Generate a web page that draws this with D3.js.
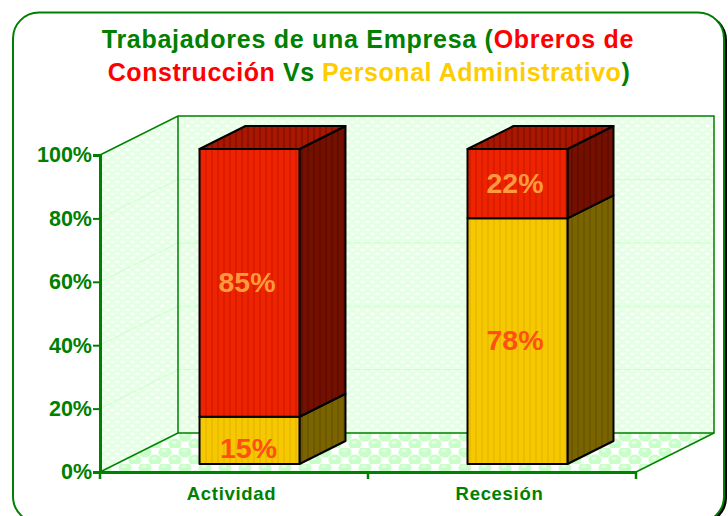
<!DOCTYPE html>
<html>
<head>
  <meta charset="utf-8">
  <title>Trabajadores de una Empresa</title>
  <script src="https://d3js.org/d3.v7.min.js"></script>
  <style>
    html, body { margin: 0; padding: 0; background: #fff; overflow: hidden; }
    svg { display: block; font-family: "Liberation Sans", Arial, sans-serif; font-weight: bold; }
  </style>
</head>
<body>
<svg id="chart" width="728" height="516"></svg>
<script>
// values
var categories = ["Actividad", "Recesión"];
var personal = [15, 78];
var obreros = [85, 22];
var yTicks = [0, 20, 40, 60, 80, 100];

var svg = d3.select("#chart");
var defs = svg.append("defs");

var green = "#008000";

// wall / floor textures
var wallPat = defs.append("pattern").attr("id", "wall").attr("patternUnits", "userSpaceOnUse")
    .attr("width", 10).attr("height", 8);
wallPat.append("rect").attr("width", 10).attr("height", 8).attr("fill", "#e4ffe4");
wallPat.append("ellipse").attr("cx", 2.5).attr("cy", 2).attr("rx", 2.5).attr("ry", 1.4).attr("fill", "#fff").attr("opacity", 0.8);
wallPat.append("ellipse").attr("cx", 7.5).attr("cy", 6).attr("rx", 2.5).attr("ry", 1.4).attr("fill", "#fff").attr("opacity", 0.8);

var floorPat = defs.append("pattern").attr("id", "floor").attr("patternUnits", "userSpaceOnUse")
    .attr("width", 20).attr("height", 16);
floorPat.append("rect").attr("width", 20).attr("height", 16).attr("fill", "#fff");
[[5, 4], [15, 12], [-5, 12], [25, 4]].forEach(function(c) {
  floorPat.append("ellipse").attr("cx", c[0]).attr("cy", c[1]).attr("rx", 6.5).attr("ry", 5.5).attr("fill", "#c8ffc8");
  floorPat.append("ellipse").attr("cx", c[0] - 1).attr("cy", c[1] - 1.5).attr("rx", 2.5).attr("ry", 1.5).attr("fill", "#e8ffe8");
});

function stripes(id, base, dark) {
  var p = defs.append("pattern").attr("id", id).attr("patternUnits", "userSpaceOnUse")
      .attr("width", 6).attr("height", 6);
  p.append("rect").attr("width", 6).attr("height", 6).attr("fill", base);
  p.append("rect").attr("x", 1).attr("width", 2).attr("height", 6).attr("fill", dark);
}
stripes("redFront", "#ee2400", "#dc1c00");
stripes("redTop", "#a81800", "#901000");
stripes("redSide", "#741000", "#640c00");
stripes("yelFront", "#f6c800", "#ecbc00");
stripes("yelSide", "#7a6400", "#6e5800");

// frame with its shadow
svg.append("rect").attr("x", 16).attr("y", 14).attr("width", 711).attr("height", 510).attr("rx", 26)
    .attr("fill", "#000");
svg.append("rect").attr("x", 13).attr("y", 12.5).attr("width", 711).attr("height", 510).attr("rx", 26)
    .attr("fill", "#fff").attr("stroke", green).attr("stroke-width", 2);

// title
var title = svg.append("text").attr("text-anchor", "middle").attr("font-size", 25);
var line1 = title.append("tspan").attr("x", 368).attr("y", 48).attr("letter-spacing", 0.72);
line1.append("tspan").attr("fill", green).text("Trabajadores de una Empresa (");
line1.append("tspan").attr("fill", "#ff0000").text("Obreros de");
var line2 = title.append("tspan").attr("x", 369).attr("y", 81).attr("letter-spacing", 0.55);
line2.append("tspan").attr("fill", "#ff0000").text("Construcción ");
line2.append("tspan").attr("fill", green).text("Vs ");
line2.append("tspan").attr("fill", "#ffcc00").text("Personal Administrativo");
line2.append("tspan").attr("fill", green).text(")");

// scales
var x = d3.scaleBand().domain(categories).range([100, 636]).paddingInner(0.627).paddingOuter(0.3135);
var y = d3.scaleLinear().domain([0, 100]).range([472, 155]);
var yBar = d3.scaleLinear().domain([0, 100]).range([464, 149]);

var depthX = 78, depthY = 39;   // plot box depth
var barShift = 15.5;            // bars sit a little behind the front plane
var barDepthX = 46, barDepthY = 23;

var x0 = x.range()[0], x1 = x.range()[1];
var yb = y(0), yt = y(100);

function pts(a) { return a.map(function(p) { return p.join(","); }).join(" "); }

// walls and floor
var box = svg.append("g");
box.append("polygon").attr("fill", "url(#wall)")
    .attr("points", pts([[x0, yb], [x0 + depthX, yb - depthY], [x0 + depthX, yt - depthY], [x0, yt]]));
box.append("rect").attr("fill", "url(#wall)")
    .attr("x", x0 + depthX).attr("y", yt - depthY).attr("width", x1 - x0).attr("height", yb - yt);
box.append("polygon").attr("fill", "url(#floor)")
    .attr("points", pts([[x0, yb], [x0 + depthX, yb - depthY], [x1 + depthX, yb - depthY], [x1, yb]]));

// gridlines along side and back wall
box.selectAll(".grid").data(yTicks.slice(1, -1)).enter().append("polyline")
    .attr("class", "grid").attr("fill", "none").attr("stroke", "#ccffcc").attr("stroke-width", 1)
    .attr("points", function(d) {
      return pts([[x0, y(d)], [x0 + depthX, y(d) - depthY], [x1 + depthX, y(d) - depthY]]);
    });

// box outline
box.append("polyline").attr("fill", "none").attr("stroke", green).attr("stroke-width", 1.5)
    .attr("points", pts([[x0, yt], [x0 + depthX, yt - depthY], [x1 + depthX, yt - depthY], [x1 + depthX, yb - depthY],
                         [x0 + depthX, yb - depthY], [x0 + depthX, yt - depthY]]));
box.append("line").attr("stroke", green).attr("stroke-width", 1.5)
    .attr("x1", x0).attr("y1", yb).attr("x2", x0 + depthX).attr("y2", yb - depthY);
box.append("line").attr("stroke", green).attr("stroke-width", 1.5)
    .attr("x1", x1).attr("y1", yb).attr("x2", x1 + depthX).attr("y2", yb - depthY);

// stacked bars
var table = categories.map(function(c, i) {
  return { cat: c, personal: personal[i], obreros: obreros[i] };
});
var series = d3.stack().keys(["personal", "obreros"])(table);
var fills = {
  personal: { front: "url(#yelFront)", side: "url(#yelSide)", label: "#ff5014" },
  obreros: { front: "url(#redFront)", side: "url(#redSide)", top: "url(#redTop)", label: "#ff9a3c" }
};

var barG = svg.append("g").attr("stroke", "#000").attr("stroke-width", 2).attr("stroke-linejoin", "round");
var labelG = svg.append("g").attr("text-anchor", "middle").attr("font-size", 28.5);

series.forEach(function(s) {
  var f = fills[s.key];
  s.forEach(function(d) {
    var left = x(d.data.cat) + barShift, right = left + x.bandwidth();
    var lo = yBar(d[0]), hi = yBar(d[1]);
    barG.append("polygon").attr("fill", f.side)
        .attr("points", pts([[right, lo], [right + barDepthX, lo - barDepthY], [right + barDepthX, hi - barDepthY], [right, hi]]));
    if (f.top) {
      barG.append("polygon").attr("fill", f.top)
          .attr("points", pts([[left, hi], [left + barDepthX, hi - barDepthY], [right + barDepthX, hi - barDepthY], [right, hi]]));
    }
    barG.append("rect").attr("fill", f.front)
        .attr("x", left).attr("y", hi).attr("width", x.bandwidth()).attr("height", lo - hi);

    // short segments have the label pushed down and over a bit
    var short = lo - hi < 60;
    labelG.append("text").attr("fill", f.label)
        .attr("x", (left + right) / 2 - (short ? 1 : 2.5)).attr("y", (lo + hi) / 2 + (short ? 18 : 9))
        .text((d[1] - d[0]) + "%");
  });
});

// axes
var yAxis = svg.append("g").attr("transform", "translate(100,0)")
    .call(d3.axisLeft(y).tickValues(yTicks).tickFormat(function(d) { return d + "%"; }).tickSize(7).tickPadding(1));
yAxis.selectAll("text").attr("fill", green).attr("font-size", 21.5)
    .attr("font-family", "Liberation Sans").attr("font-weight", "bold");
yAxis.selectAll("line").attr("stroke", green).attr("stroke-width", 2);
yAxis.select(".domain").attr("stroke", green).attr("stroke-width", 3);

var xAxis = svg.append("g").attr("transform", "translate(0," + yb + ")")
    .call(d3.axisBottom(x).tickSize(0).tickPadding(15));
xAxis.selectAll("text").attr("fill", green).attr("font-size", 18.5).attr("letter-spacing", 0.7)
    .attr("font-family", "Liberation Sans").attr("font-weight", "bold")
    .attr("dx", -2.5);
xAxis.select(".domain").attr("stroke", green).attr("stroke-width", 3);
xAxis.selectAll(".edge").data([0, 1, 2]).enter().append("line").attr("class", "edge")
    .attr("stroke", green).attr("stroke-width", 2.5)
    .attr("x1", function(d) { return x0 + d * x.step(); })
    .attr("x2", function(d) { return x0 + d * x.step(); })
    .attr("y1", 0).attr("y2", 7);
</script>
</body>
</html>
